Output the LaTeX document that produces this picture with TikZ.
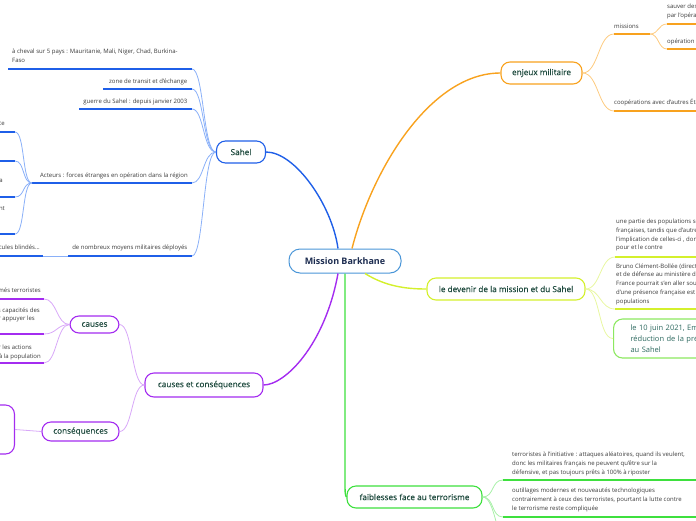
\documentclass[tikz,border=0pt]{standalone}
\usepackage{fontspec}
\setmainfont{Open Sans}
\newfontfamily\semib[FakeBold=0.35]{Open Sans}
\newcommand\mydp{\rule[-1.5pt]{0pt}{0pt}}
\definecolor{cBlue}{HTML}{1F5FE8}
\definecolor{cBlueL}{HTML}{8AB0F8}
\definecolor{cOr}{HTML}{F8A21E}
\definecolor{cOrL}{HTML}{FDCB80}
\definecolor{cLime}{HTML}{D4F02C}
\definecolor{cLimeL}{HTML}{E8F7A0}
\definecolor{cGreen}{HTML}{3EE03E}
\definecolor{cGreenL}{HTML}{A8F0A8}
\definecolor{cPur}{HTML}{A42CF0}
\definecolor{cPurL}{HTML}{D8A8F8}
\definecolor{cMain}{HTML}{4A96D8}
\definecolor{cJuin}{HTML}{8CE860}
\definecolor{tLbl}{HTML}{1E4A3E}
\definecolor{tMain}{HTML}{1C2C50}
\definecolor{tSmall}{HTML}{3A3A3A}
\definecolor{tJuin}{HTML}{2E6A60}
\begin{document}
\begin{tikzpicture}[x=1pt,y=-1pt,
  box/.style={rounded corners=9pt, fill=white, line width=1.1pt, inner sep=0pt, text=tLbl, font=\semib\fontsize{8.2}{10}\selectfont},
  lbl/.style={inner sep=0pt, text=tSmall, font=\fontsize{6}{8.8}\selectfont},
  ml/.style={lbl, align=left, anchor=south west},
  trunk/.style={line width=1.4pt},
  under/.style={line width=1.5pt},
  twig/.style={line width=0.8pt}]
\useasboundingbox (0,0) rectangle (696,520);
\clip (0,0) rectangle (696,520);

% ---------- level 0 / 1 nodes
\node[draw=cMain, fill=white, rounded corners=11pt, line width=1pt, inner sep=0pt,
      minimum width=112pt, minimum height=24pt, text=tMain,
      font=\bfseries\fontsize{9}{11}\selectfont] (main) at (345,261) {Mission Barkhane};
\node[box, draw=cBlue, minimum width=49pt, minimum height=22pt] (sahel) at (241,152) {Sahel};
\node[box, draw=cOr, minimum width=81pt, minimum height=22pt] (enj) at (541.5,73) {enjeux militaire};
\node[box, draw=cLime, minimum width=158pt, minimum height=22pt] (dev) at (506,289) {le devenir de la mission et du Sahel};
\node[box, draw=cGreen, minimum width=135pt, minimum height=22pt] (faib) at (414.5,497) {faiblesses face au terrorisme};
\node[box, draw=cPur, minimum width=118pt, minimum height=24pt] (ccs) at (204,385) {causes et conséquences};
\node[box, draw=cPur, minimum width=49pt, minimum height=17pt] (causes) at (94.5,324.5) {causes};
\node[box, draw=cPur, minimum width=77pt, minimum height=19pt] (cons) at (80.5,431.5) {conséquences};
\node[box, draw=cPur, minimum width=80pt, minimum height=49pt, anchor=east] (consbox) at (15,429.5) {};
\node[box, draw=cJuin, anchor=west, minimum height=39pt, text width=190pt, align=left,
      inner xsep=17pt, text=tJuin, font=\fontsize{7.5}{11.3}\selectfont] (juin) at (613,338.5)
      {le 10 juin 2021, Emmanuel Macron annonce la\\réduction de la présence militaire française\\au Sahel};

% ---------- trunks
\draw[trunk, cBlue] ([xshift=-7pt]main.north) .. controls (332,205) and (295,152) .. (sahel.east);
\draw[trunk, cOr] ([xshift=7pt]main.north) .. controls (372,170) and (430,73) .. (enj.west);
\draw[trunk, cLime] ([xshift=20pt]main.south) .. controls (385,286) and (405,289) .. (dev.west);
\draw[trunk, cGreen] (main.south) -- (345,488) .. controls (345,494) and (346,497) .. (faib.west);
\draw[trunk, cPur] ([xshift=-7pt]main.south) .. controls (325,345) and (285,385) .. (ccs.east);

% ---------- Sahel branch
\coordinate (s1a) at (8,69);   \coordinate (s1b) at (192,69);
\coordinate (s2a) at (103,89); \coordinate (s2b) at (192,89);
\coordinate (s3a) at (79,109); \coordinate (s3b) at (192,109);
\coordinate (s4a) at (32,183); \coordinate (s4b) at (192,183);
\coordinate (s5a) at (68,256); \coordinate (s5b) at (192,256);
\foreach \c in {s1,s2,s3,s4,s5}{
  \draw[twig, cBlueL] (sahel.west) .. controls +(-13,0) and +(12,0) .. (\c b);
  \draw[under, cBlue] (\c a) -- (\c b);
}
\node[ml] (t-s1) at (12,64.2) {à cheval sur 5 pays : Mauritanie, Mali, Niger, Chad, Burkina-\\Faso\mydp};
\node[lbl, anchor=base east] (t-s2) at (187.5,83.7) {zone de transit et d'échange};
\node[lbl, anchor=base east] (t-s3) at (187.5,103.7) {guerre du Sahel : depuis janvier 2003};
\node[lbl, anchor=base east] (t-s4) at (188,177.7) {Acteurs : forces étranges en opération dans la région};
\node[lbl, anchor=base east] (t-s5) at (187.5,249.7) {de nombreux moyens militaires déployés};

\coordinate (a1a) at (-60,132); \coordinate (a1b) at (15,132);
\coordinate (a2a) at (-60,161); \coordinate (a2b) at (15,161);
\coordinate (a3a) at (-60,197); \coordinate (a3b) at (15,197);
\coordinate (a4a) at (-60,234); \coordinate (a4b) at (15,234);
\foreach \c in {a1,a2,a3,a4}{
  \draw[twig, cBlueL] (s4a) .. controls +(-10,0) and +(10,0) .. (\c b);
  \draw[under, cBlue] (\c a) -- (\c b);
}
\node[lbl, anchor=base east] (t-a1) at (5,125.7) {la France};
\node[lbl, anchor=base east] (t-a3) at (3,182.7) {les armées de la};
\node[lbl, anchor=base east] (t-a4) at (5,210.7) {qui interviennent};

\coordinate (va) at (-60,256); \coordinate (vb) at (43,256);
\draw[twig, cBlueL] (s5a) -- (vb);
\draw[under, cBlue] (va) -- (vb);
\node[lbl, anchor=base east] (t-v) at (40,249.7) {avions, hélicoptères, véhicules blindés...};

% ---------- enjeux militaire branch
\coordinate (mia) at (614,34);  \coordinate (mib) at (650,34);
\coordinate (coa) at (614,111); \coordinate (cob) at (700,111);
\coordinate (m1a) at (667,24);  \coordinate (m1b) at (700,24);
\coordinate (m2a) at (667,49);  \coordinate (m2b) at (700,49);
\draw[twig, cOrL] (enj.east) .. controls +(16,0) and +(-16,0) .. (mia);
\draw[twig, cOrL] (enj.east) .. controls +(16,0) and +(-16,0) .. (coa);
\draw[twig, cOrL] (mib) .. controls +(9,0) and +(-9,0) .. (m1a);
\draw[twig, cOrL] (mib) .. controls +(9,0) and +(-9,0) .. (m2a);
\draw[under, cOr] (mia) -- (mib);
\draw[under, cOr] (coa) -- (cob);
\draw[under, cOr] (m1a) -- (m1b);
\draw[under, cOr] (m2a) -- (m2b);
\node[lbl, anchor=base west] (t-mi) at (614,28.7) {missions};
\node[ml] (t-m1) at (667,19.2) {sauver des territoires envahis\\par l'opération Serval\mydp};
\node[lbl, anchor=base west] (t-m2) at (667,43.7) {opération de contre-terrorisme};
\node[lbl, anchor=base west] (t-co) at (614,104.7) {coopérations avec d'autres États};

% ---------- devenir branch
\coordinate (d1a) at (615,257); \coordinate (d1b) at (700,257);
\coordinate (d2a) at (615,309); \coordinate (d2b) at (700,309);
\draw[twig, cLimeL] (dev.east) .. controls +(15,0) and +(-15,0) .. (d1a);
\draw[twig, cLimeL] (dev.east) .. controls +(15,0) and +(-15,0) .. (d2a);
\draw[twig, cLimeL] (dev.east) .. controls +(15,0) and +(-15,0) .. (juin.west);
\draw[under, cLime] (d1a) -- (d1b);
\draw[under, cLime] (d2a) -- (d2b);
\node[ml] (t-d1) at (616,251.5) {une partie des populations sont contre les forces\\françaises, tandis que d'autres soutiennent\\l'implication de celles-ci , donc les avis sont\\pour et le contre\mydp};
\node[ml] (t-d2) at (616,304.9) {Bruno Clément-Bollée (directeur de la coopération de sécurité\\et de défense au ministère des Affaires étrangères) : la\\France pourrait s'en aller sous peu, car le rejet\\d'une présence française est de plus en plus fort parmi les\\populations\mydp};

% ---------- faiblesses branch
\coordinate (f1a) at (503,480); \coordinate (f1b) at (700,480);
\coordinate (f2a) at (503,517); \coordinate (f2b) at (700,517);
\coordinate (f3a) at (505,548);
\draw[twig, cGreenL] (faib.east) .. controls +(12,0) and +(-12,0) .. (f1a);
\draw[twig, cGreenL] (faib.east) .. controls +(12,0) and +(-12,0) .. (f2a);
\draw[twig, cGreenL] (faib.east) .. controls +(12,0) and +(-8,-10) .. (f3a);
\draw[under, cGreen] (f1a) -- (f1b);
\draw[under, cGreen] (f2a) -- (f2b);
\node[ml] (t-f1) at (512,475.9) {terroristes à l'initiative : attaques aléatoires, quand ils veulent,\\donc les militaires français ne peuvent qu'être sur la\\défensive, et pas toujours prêts à 100\% à riposter\mydp};
\node[ml] (t-f2) at (512,512.2) {outillages modernes et nouveautés technologiques\\contrairement à ceux des terroristes, pourtant la lutte contre\\le terrorisme reste compliquée\mydp};

% ---------- causes et conséquences branch
\draw[twig, cPurL] (ccs.west) .. controls +(-13,0) and +(13,0) .. (causes.east);
\draw[twig, cPurL] (ccs.west) .. controls +(-13,0) and +(13,0) .. (cons.east);
\draw[twig, cPurL] (cons.west) -- (consbox.east);
\coordinate (c1a) at (-60,299); \coordinate (c1b) at (44,299);
\coordinate (c2a) at (-60,334); \coordinate (c2b) at (44,334);
\coordinate (c3a) at (-60,363); \coordinate (c3b) at (44,363);
\foreach \c in {c1,c2,c3}{
  \draw[twig, cPurL] (causes.west) .. controls +(-13,0) and +(13,0) .. (\c b);
  \draw[under, cPur] (\c a) -- (\c b);
}
\node[lbl, anchor=base east] (t-c1) at (41,292.7) {présence de groupes armés terroristes};
\node[lbl, anchor=base east] (t-c2a) at (40,312.7) {faiblesse des capacités des};
\node[lbl, anchor=base east] (t-c2b) at (35,320.7) {armées locales pour appuyer les};
\node[lbl, anchor=base east] (t-c3a) at (32,349.7) {protéger les actions};
\node[lbl, anchor=base east] (t-c3b) at (41,358.7) {à la population};
\end{tikzpicture}
\end{document}
